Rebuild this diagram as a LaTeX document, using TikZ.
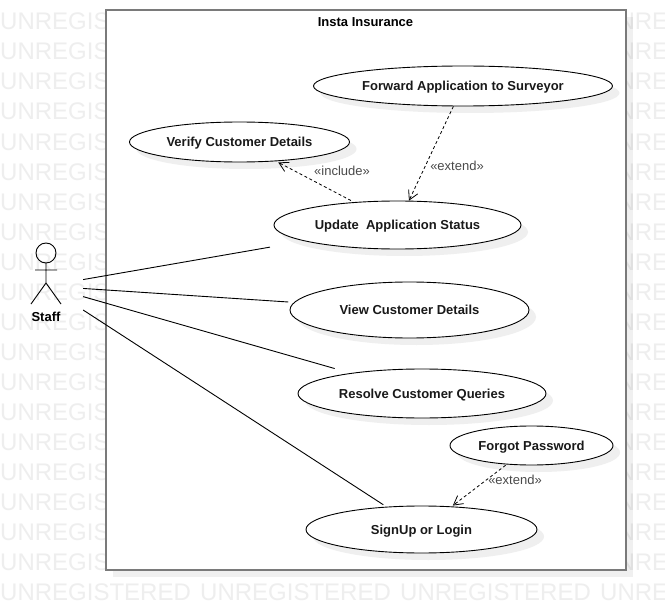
\documentclass[tikz,border=0pt]{standalone}
\usepackage{fontspec}
\setmainfont{Liberation Sans}
\usetikzlibrary{shapes.geometric,arrows.meta,shadows}
\definecolor{wm}{HTML}{EEEEEE}
\definecolor{shade}{HTML}{EFEFEF}
\definecolor{frame}{HTML}{7A7A7A}
\definecolor{stereo}{HTML}{4A4A4A}
\tikzset{
  usecase/.style={ellipse,draw=black,line width=0.9pt,fill=white,inner sep=0pt,
    text height=9.5pt,text depth=0.5pt,
    font=\fontsize{13}{15}\selectfont\bfseries,text=black!90,
    drop shadow={shadow xshift=7pt,shadow yshift=-7pt,fill=shade,opacity=1}},
  wmtext/.style={anchor=base west,inner sep=0pt,text=wm,font=\fontsize{24}{26}\selectfont},
  assoc/.style={line width=0.9pt,draw=black},
  dep/.style={line width=0.8pt,draw=black,dash pattern=on 3pt off 2.5pt,
    -{Straight Barb[length=9pt,width=10pt,line width=0.8pt]}},
  stereotype/.style={inner sep=0pt,text=stereo,font=\fontsize{13}{15}\selectfont},
}
\begin{document}
\begin{tikzpicture}[x=1pt,y=-1pt]
\useasboundingbox (0,0) rectangle (665,610);
\fill[white] (0,0) rectangle (665,610);
% watermark
\foreach \yy in {30,60,...,600}{
  \foreach \xx in {0,200,400,600}{
    \begin{scope}
      \clip (0,0) rectangle (665,610);
      \node[wmtext] at (\xx,\yy) {UNREGISTERED};
    \end{scope}
  }
}
% system boundary
\node[draw=frame,line width=2pt,fill=white,rectangle,inner sep=0pt,
  minimum width=519.5pt,minimum height=560pt,
  drop shadow={shadow xshift=7pt,shadow yshift=-7pt,fill=black,opacity=0.06}]
  (system) at (365.75,290) {};
\node[inner sep=0pt,font=\fontsize{13}{15}\selectfont\bfseries] (title) at (365.5,22.5) {Insta Insurance};
% actor
\node[rectangle,inner sep=0pt,minimum width=74pt,minimum height=86pt] (staff) at (46,286) {};
\draw[line width=0.9pt] (46,253) circle (10);
\draw[line width=0.9pt] (46,263) -- (46,283) (35,270) -- (57,270)
  (31,304) -- (46,283) -- (61,304);
\node[inner sep=0pt,font=\fontsize{13}{15}\selectfont\bfseries] (stafflabel) at (46,317) {Staff};
% use cases
\node[usecase,minimum width=299pt,minimum height=40pt] (forward) at (463,86) {Forward Application to Surveyor};
\node[usecase,minimum width=220pt,minimum height=40pt] (verify) at (239.5,142) {Verify Customer Details};
\node[usecase,minimum width=247pt,minimum height=48pt] (update) at (397.5,225) {Update\ \ Application Status};
\node[usecase,minimum width=239pt,minimum height=56pt] (view) at (409.5,310) {View Customer Details};
\node[usecase,minimum width=248pt,minimum height=49pt] (resolve) at (422,393.5) {Resolve Customer Queries};
\node[usecase,minimum width=163pt,minimum height=39pt] (forgot) at (531.5,445.5) {Forgot Password};
\node[usecase,minimum width=231pt,minimum height=47pt] (signup) at (421.5,529.5) {SignUp or Login};
% associations
\draw[assoc,shorten >=35pt] (staff) -- (update);
\draw[assoc,shorten >=5.7pt] (staff) -- (view);
\draw[assoc,shorten >=16.5pt] (staff) -- (resolve);
\draw[assoc,shorten >=3.6pt] (staff) -- (signup);
% dependencies
\draw[dep,shorten <=3.4pt,shorten >=2.3pt] (update) -- (verify);
\draw[dep] (forward) -- (update);
\draw[dep,shorten <=1.2pt,shorten >=1.3pt] (forgot) -- (signup);
\node[stereotype] (incl) at (342,171) {«include»};
\node[stereotype] (ext1) at (457,165.5) {«extend»};
\node[stereotype] (ext2) at (515,480) {«extend»};
\end{tikzpicture}
\end{document}
